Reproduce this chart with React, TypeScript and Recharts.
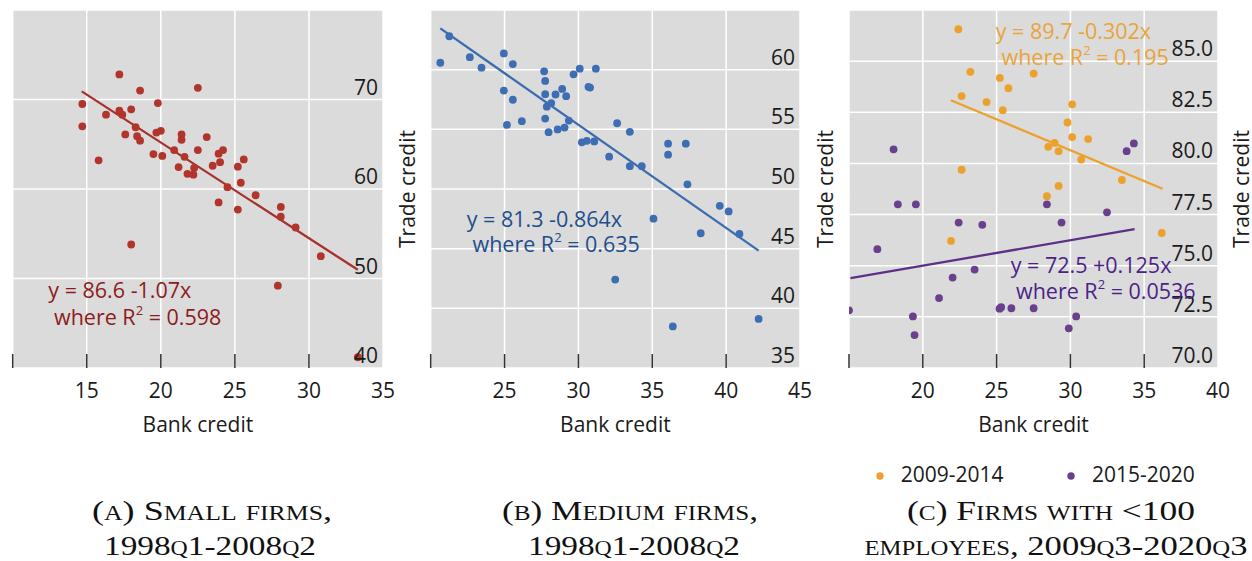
import React from 'react';
import { ScatterChart, Scatter, XAxis, YAxis, CartesianGrid, ReferenceLine } from 'recharts';

// ---------- data (bank credit, trade credit) ----------
const smallFirms: [number, number][] = [
  [17.2, 72.8], [22.5, 71.3], [18.6, 71.0], [14.7, 69.5], [19.8, 69.6], [18.0, 68.9],
  [17.2, 68.75], [17.4, 68.3], [16.3, 68.3], [14.7, 67.0], [18.3, 66.9], [17.6, 66.1],
  [18.4, 65.9], [18.6, 65.4], [19.7, 66.3], [20.0, 66.5], [21.4, 66.1], [21.4, 65.5],
  [23.1, 65.8], [19.5, 63.9], [20.1, 63.7], [15.8, 63.2], [20.9, 64.35], [22.5, 64.35],
  [21.6, 63.6], [23.9, 63.95], [24.2, 64.35], [24.0, 63.0], [23.5, 62.6], [21.2, 62.45],
  [22.25, 62.35], [21.8, 61.7], [22.2, 61.6], [25.2, 62.5], [25.6, 63.3], [25.4, 60.7],
  [24.5, 60.2], [26.4, 59.3], [23.9, 58.5], [25.2, 57.7], [28.1, 58.0], [28.1, 56.9],
  [29.1, 55.7], [30.8, 52.5], [18.0, 53.8], [27.9, 49.2], [33.3, 41.2],
];
const mediumFirms: [number, number][] = [
  [21.26, 62.8], [20.65, 60.58], [22.65, 61.05], [23.44, 60.17], [24.95, 61.36], [25.56, 60.47],
  [24.95, 58.25], [25.56, 57.48], [25.16, 55.37], [26.17, 55.68], [27.68, 59.86], [27.75, 59.06],
  [27.75, 57.95], [28.45, 57.92], [28.9, 58.39], [29.17, 57.78], [28.16, 57.2], [27.86, 56.9],
  [27.75, 55.9], [27.98, 54.76], [28.59, 54.99], [29.06, 55.15], [29.35, 55.73], [29.67, 59.61],
  [30.09, 60.08], [31.18, 60.08], [30.68, 58.56], [30.79, 58.5], [30.23, 53.91], [30.57, 54.04],
  [31.07, 53.99], [32.62, 55.51], [33.48, 54.79], [32.08, 52.71], [33.48, 51.91], [34.29, 51.91],
  [36.07, 53.8], [36.07, 52.88], [37.27, 53.8], [37.38, 50.39], [35.08, 47.51], [39.57, 48.59],
  [40.17, 48.12], [38.28, 46.29], [40.9, 46.23], [32.49, 42.41], [36.39, 38.48], [42.2, 39.11],
];
const firms2009to2014: [number, number][] = [
  [22.41, 86.56], [23.22, 84.48], [25.22, 84.18], [27.51, 84.39], [25.8, 83.68], [22.63, 83.29],
  [24.32, 83.0], [25.42, 82.6], [30.12, 82.89], [29.8, 82.0], [30.12, 81.29], [31.2, 81.19],
  [28.5, 80.81], [28.93, 81.0], [29.2, 80.6], [30.73, 80.19], [22.63, 79.69], [33.49, 79.19],
  [29.2, 78.9], [28.41, 78.4], [21.91, 76.21], [36.19, 76.6],
];
const firms2015to2020: [number, number][] = [
  [18.02, 80.69], [33.81, 80.6], [34.3, 80.98], [18.31, 78.0], [19.53, 78.0], [28.41, 78.0],
  [32.48, 77.61], [22.43, 77.11], [24.03, 77.0], [29.4, 77.11], [16.92, 75.81], [22.02, 74.42],
  [23.51, 74.81], [21.1, 73.42], [15.0, 72.82], [19.33, 72.52], [19.44, 71.61], [25.31, 72.97],
  [26.0, 72.92], [27.51, 72.92], [29.89, 71.94], [30.39, 72.52], [25.2, 72.9],
];

// regression line end points
const fitSmall: [number, number][] = [[14.66, 70.91], [33.3, 50.97]];
const fitMedium: [number, number][] = [[20.65, 63.46], [42.2, 44.84]];
const fit2009to2014: [number, number][] = [[21.9, 83.09], [36.24, 78.76]];
const fit2015to2020: [number, number][] = [[15.1, 74.39], [34.35, 76.79]];

// axis ticks
const xTicksA = [10, 15, 20, 25, 30, 35];
const yTicksA = [40, 50, 60, 70, 80];
const xTicksB = [20, 25, 30, 35, 40, 45];
const yTicksB = [35, 40, 45, 50, 55, 60, 65];
const xTicksC = [15, 20, 25, 30, 35, 40];
const yTicksC = [70, 72.5, 75, 77.5, 80, 82.5, 85, 87.5];

// ---------- styling ----------
const SANS = "'Open Sans', 'Noto Sans', sans-serif";
const SERIF = "'Liberation Serif', 'DejaVu Serif', serif";
const TXT = '#1a1a1a';
const BG = '#dbdbdb';

const RED = '#b2352c';
const RED_LINE = '#a8302a';
const RED_TXT = '#8e1b1b';
const BLUE = '#3d6eb4';
const BLUE_LINE = '#3c6cb0';
const BLUE_TXT = '#1f4e8c';
const ORANGE = '#eba12c';
const ORANGE_LINE = '#eca12a';
const ORANGE_TXT = '#e9a43a';
const PURPLE = '#6a3f8e';
const PURPLE_LINE = '#5e2f88';
const PURPLE_TXT = '#4d1f88';

const toObjs = (arr: [number, number][]) => arr.map(([x, y]) => ({ x, y }));

const makeXTick = (ticks: number[]) => (props: any) => {
  const { x, y, payload } = props;
  const v = payload.value;
  const first = ticks[0];
  const last = ticks[ticks.length - 1];
  return (
    <g>
      {v !== last && (
        <line x1={x} x2={x} y1={y - 14} y2={y} stroke="#333" strokeWidth={1.5} />
      )}
      {v !== first && (
        <text x={x} y={y + 30} textAnchor="middle" fontSize={21} fill={TXT} fontFamily={SANS}>
          {v}
        </text>
      )}
    </g>
  );
};

const makeYTick = (ticks: number[], decimals: number) => (props: any) => {
  const { x, y, payload } = props;
  const v = payload.value;
  if (v === ticks[ticks.length - 1]) return <g />;
  return (
    <text x={x - 5} y={y - 5} textAnchor="end" fontSize={21} fill={TXT} fontFamily={SANS}>
      {Number(v).toFixed(decimals)}
    </text>
  );
};

type Series = { data: [number, number][]; color: string };
type Fit = { pts: [number, number][]; color: string };

function Panel(props: {
  left: number;
  mLeft: number;
  mRight: number;
  xTicks: number[];
  yTicks: number[];
  decimals: number;
  series: Series[];
  fits: Fit[];
}) {
  const { left, mLeft, mRight, xTicks, yTicks, decimals, series, fits } = props;
  return (
    <div style={{ position: 'absolute', left, top: 0 }}>
      <ScatterChart width={420} height={440} margin={{ top: 10, bottom: 71, left: mLeft, right: mRight - 1 }}>
        <CartesianGrid fill={BG} fillOpacity={1} stroke="#ffffff" strokeWidth={1.5} />
        <XAxis
          type="number"
          dataKey="x"
          domain={[xTicks[0], xTicks[xTicks.length - 1]]}
          ticks={xTicks}
          interval={0}
          height={1}
          axisLine={false}
          tickLine={false}
          tickSize={0}
          tickMargin={0}
          tick={makeXTick(xTicks)}
          allowDataOverflow
        />
        <YAxis
          type="number"
          dataKey="y"
          orientation="right"
          domain={[yTicks[0], yTicks[yTicks.length - 1]]}
          ticks={yTicks}
          interval={0}
          width={1}
          axisLine={false}
          tickLine={false}
          tickSize={0}
          tickMargin={0}
          tick={makeYTick(yTicks, decimals)}
          allowDataOverflow
        />
        {series.map((s, i) => (
          <Scatter
            key={'s' + i}
            data={toObjs(s.data)}
            isAnimationActive={false}
            shape={(p: any) => <circle cx={p.cx} cy={p.cy} r={3.9} fill={s.color} />}
          />
        ))}
        {fits.map((f, i) => (
          <ReferenceLine
            key={'f' + i}
            segment={toObjs(f.pts)}
            stroke={f.color}
            strokeWidth={2.3}
            ifOverflow="visible"
          />
        ))}
      </ScatterChart>
    </div>
  );
}

function Eq(props: { x1: number; y1: number; x2: number; y2: number; color: string; eq: string; r2: string }) {
  const { x1, y1, x2, y2, color, eq, r2 } = props;
  return (
    <g fontFamily={SANS} fontSize={21.5} fill={color}>
      <text x={x1} y={y1}>{eq}</text>
      <text x={x2} y={y2}>
        where R
        <tspan dy={-10} fontSize={13}>2</tspan>
        <tspan dy={10}>{' = ' + r2}</tspan>
      </text>
    </g>
  );
}

function Caption(props: { x: number; y: number; w: number; text: string }) {
  return (
    <text
      x={props.x}
      y={props.y}
      textAnchor="middle"
      fontFamily={SERIF}
      fontSize={28}
      fill="#111"
      style={{ fontVariant: 'small-caps' }}
      textLength={props.w}
      lengthAdjust="spacingAndGlyphs"
    >
      {props.text}
    </text>
  );
}

export default function App() {
  return (
    <div style={{ position: 'absolute', left: 0, top: 0, width: 1252, height: 561, background: '#fff', overflow: 'hidden' }}>
      <Panel
        left={0}
        mLeft={12.7}
        mRight={37}
        xTicks={xTicksA}
        yTicks={yTicksA}
        decimals={0}
        series={[{ data: smallFirms, color: RED }]}
        fits={[{ pts: fitSmall, color: RED_LINE }]}
      />
      <Panel
        left={420}
        mLeft={10.7}
        mRight={40}
        xTicks={xTicksB}
        yTicks={yTicksB}
        decimals={0}
        series={[{ data: mediumFirms, color: BLUE }]}
        fits={[{ pts: fitMedium, color: BLUE_LINE }]}
      />
      <Panel
        left={830}
        mLeft={19}
        mRight={32}
        xTicks={xTicksC}
        yTicks={yTicksC}
        decimals={1}
        series={[
          { data: firms2009to2014, color: ORANGE },
          { data: firms2015to2020, color: PURPLE },
        ]}
        fits={[
          { pts: fit2009to2014, color: ORANGE_LINE },
          { pts: fit2015to2020, color: PURPLE_LINE },
        ]}
      />
      <svg width={1252} height={561} style={{ position: 'absolute', left: 0, top: 0, pointerEvents: 'none' }}>
        {/* y labels */}
        {[415, 833, 1249].map((bx, i) => (
          <text
            key={'yl' + i}
            transform={`translate(${bx},189) rotate(-90)`}
            textAnchor="middle"
            fontFamily={SANS}
            fontSize={21}
            fill={TXT}
          >
            Trade credit
          </text>
        ))}
        {/* x labels */}
        {[197.9, 615.4, 1033.5].map((cx, i) => (
          <text key={'xl' + i} x={cx} y={431.7} textAnchor="middle" fontFamily={SANS} fontSize={21} fill={TXT}>
            Bank credit
          </text>
        ))}
        {/* regression annotations */}
        <Eq x1={48.3} y1={298.3} x2={54} y2={325} color={RED_TXT} eq="y = 86.6 -1.07x" r2="0.598" />
        <Eq x1={466.7} y1={226.7} x2={472.5} y2={252.3} color={BLUE_TXT} eq="y = 81.3 -0.864x" r2="0.635" />
        <Eq x1={995.7} y1={39.3} x2={1001.5} y2={65} color={ORANGE_TXT} eq="y = 89.7 -0.302x" r2="0.195" />
        <Eq x1={1010.7} y1={273.3} x2={1016} y2={299.3} color={PURPLE_TXT} eq="y = 72.5 +0.125x" r2="0.0536" />
        {/* legend */}
        <circle cx={880} cy={476} r={3.7} fill={ORANGE} />
        <text x={900.7} y={482} fontFamily={SANS} fontSize={21} fill={TXT}>2009-2014</text>
        <circle cx={1071} cy={476} r={3.7} fill={PURPLE} />
        <text x={1092} y={482} fontFamily={SANS} fontSize={21} fill={TXT}>2015-2020</text>
        {/* captions */}
        <Caption x={212} y={520} w={240} text="(a) Small firms," />
        <Caption x={210} y={555} w={212} text="1998q1-2008q2" />
        <Caption x={630} y={520} w={256} text="(b) Medium firms," />
        <Caption x={634} y={555} w={212} text="1998q1-2008q2" />
        <Caption x={1051} y={520} w={288} text="(c) Firms with <100" />
        <Caption x={1056} y={555} w={383} text="employees, 2009q3-2020q3" />
      </svg>
    </div>
  );
}
